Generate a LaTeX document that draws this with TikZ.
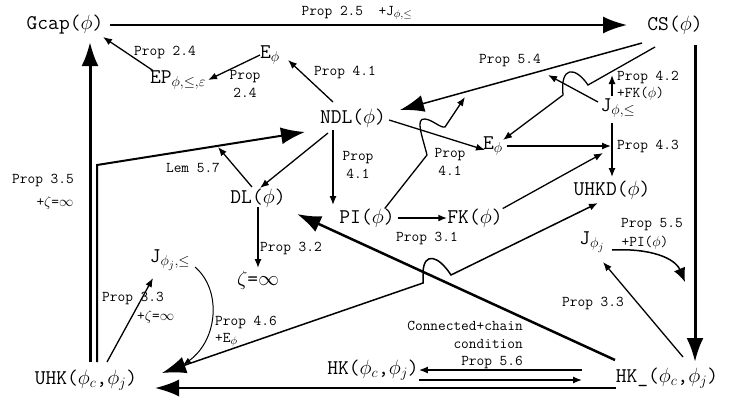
\documentclass[tikz,border=0pt]{standalone}
\usetikzlibrary{arrows.meta}
\begin{document}
\begin{tikzpicture}[x=1bp,y=-1bp,
  nd/.style={font=\ttfamily\fontsize{21}{23}\selectfont,inner sep=0pt},
  lb/.style={font=\ttfamily\fontsize{15}{17.5}\selectfont,inner sep=0pt,align=center},
  ar/.style={line width=1.3bp,-{Latex[length=9bp,width=7bp]}},
  big/.style={-{Latex[length=24bp,width=17bp]}}]
\useasboundingbox (0,0) rectangle (731,403);
% nodes
\node[nd] (Gcap) at (65,25) {Gcap($\phi$)};
\node[nd] (CS) at (675,25) {CS($\phi$)};
\node[nd] (Etop) at (270,55) {E$_\phi$};
\node[nd] (EP) at (178,80) {EP$_{\phi,\le,\varepsilon}$};
\node[nd] (NDL) at (353,118) {NDL($\phi$)};
\node[nd] (Jle) at (618,108) {J$_{\phi,\le}$};
\node[nd] (Emid) at (493,146) {E$_\phi$};
\node[nd] (UHKD) at (612,190) {UHKD($\phi$)};
\node[nd] (DL) at (258,198) {DL($\phi$)};
\node[nd] (PI) at (367,218) {PI($\phi$)};
\node[nd] (FK) at (475,218) {FK($\phi$)};
\node[nd] (zeta) at (258,280) {$\zeta$=$\infty$};
\node[nd] (Jjle) at (170,260) {J$_{\phi_j,\le}$};
\node[nd] (Jj) at (592,242) {J$_{\phi_j}$};
\node[nd] (UHK) at (86,380) {UHK($\phi_c$,$\phi_j$)};
\node[nd] (HK) at (373,370) {HK($\phi_c$,$\phi_j$)};
\node[nd] (HKm) at (667,378) {HK\_($\phi_c$,$\phi_j$)};
% labels
\node[lb] (l25) at (357,13) {Prop 2.5 \ +J$_{\phi,\le}$};
\node[lb] (l24a) at (165,52) {Prop 2.4};
\node[lb] (l24b) at (245,84) {Prop\\2.4};
\node[lb] (l41a) at (345,72) {Prop 4.1};
\node[lb] (l54) at (510,60) {Prop 5.4};
\node[lb,anchor=west,align=left] (l42) at (617,86) {Prop 4.2\\+FK($\phi$)};
\node[lb,anchor=west] (l43) at (617,146) {Prop 4.3};
\node[lb] (l57) at (193,168) {Lem 5.7};
\node[lb] (l41b) at (358,165) {Prop\\4.1};
\node[lb] (l41c) at (450,162) {Prop\\4.1};
\node[lb] (l31) at (427,238) {Prop 3.1};
\node[lb,anchor=west] (l32) at (260,248) {Prop 3.2};
\node[lb] (l35) at (43,180) {Prop 3.5};
\node[lb] (l35b) at (55,203) {+$\zeta$=$\infty$};
\node[lb,anchor=west] (l33a) at (102,298) {Prop 3.3};
\node[lb,anchor=west] (l33b) at (137,317) {+$\zeta$=$\infty$};
\node[lb,anchor=west] (l46a) at (215,322) {Prop 4.6};
\node[lb,anchor=west] (l46b) at (215,340) {+E$_\phi$};
\node[lb,anchor=east,align=right] (l56) at (523,345) {Connected+chain\\condition\\Prop 5.6};
\node[lb] (l55) at (652,225) {Prop 5.5};
\node[lb] (l55b) at (645,243) {+PI($\phi$)};
\node[lb] (l33c) at (593,303) {Prop 3.3};
% connectors
\draw[line width=2bp,big] (Gcap.east)++(6,0) -- (627,25);
\draw[ar] (EP.north west)++(3,0) -- (103,37);
\draw[ar] (Etop.west) -- (208,80);
\draw[ar] (333,102) -- (288,60);
\draw[line width=1.5bp,big] (642,43) -- (400,110);
\draw[ar] (655,47) -- (588,85) .. controls (575,66) and (560,66) .. (563,95) -- (503,140);
\draw[ar] (598,102) -- (548,75);
\draw[ar] (612,96) -- (612,75);
\draw[ar] (612,123) -- (612,177);
\draw[ar] (Emid.east)++(4,0) -- (611,146);
\draw[ar] (FK.north east) -- (603,153);
\draw[ar] (NDL.east)++(3,2) -- (485,150);
\draw[ar] (PI.north east)++(-10,0) -- (427,155) .. controls (422,135) and (415,118) .. (425,119) .. controls (433,120) and (440,128) .. (445,127) -- (465,97);
\draw[ar] (333,130) -- (333,205);
\draw[ar] (328,133) -- (260,188);
\draw[ar] (252,187) -- (218,147);
\draw[line width=2bp,big] (97,362) -- (97,165) -- (305,132);
\draw[line width=3bp,big] (90,362) -- (90,42);
\draw[ar] (DL.south) -- (258,268);
\draw[line width=2bp,-{Latex[length=9bp,width=7bp]}] (PI.east)++(3,0) -- (FK.west);
\draw[line width=2.5bp,big] (615,360) -- (297,214);
\draw[line width=1.5bp,{Latex[length=24bp,width=17bp]}-{Latex[length=9bp,width=7bp]}] (162,373) -- (423,283) -- (423,272) .. controls (424,252) and (438,255) .. (451,275) -- (598,203);
\draw[ar] (107,362) -- (153,278);
\draw[line width=1bp,-{Latex[length=8bp,width=6bp]}] (195,267) .. controls (222,290) and (218,340) .. (183,365);
\draw[line width=2bp,big] (HKm.west |- 0,388) -- (155,388);
\draw[ar] (582,370) -- (HK.east |- 0,370);
\draw[ar] (HK.east |- 0,380) -- (582,380);
\draw[line width=3bp,big] (695,45) -- (695,362);
\draw[ar] (683,357) -- (603,262);
\draw[line width=1.5bp,-{Latex[length=14bp,width=12bp]}] (612,250) .. controls (650,248) and (675,258) .. (685,282);
\end{tikzpicture}
\end{document}
